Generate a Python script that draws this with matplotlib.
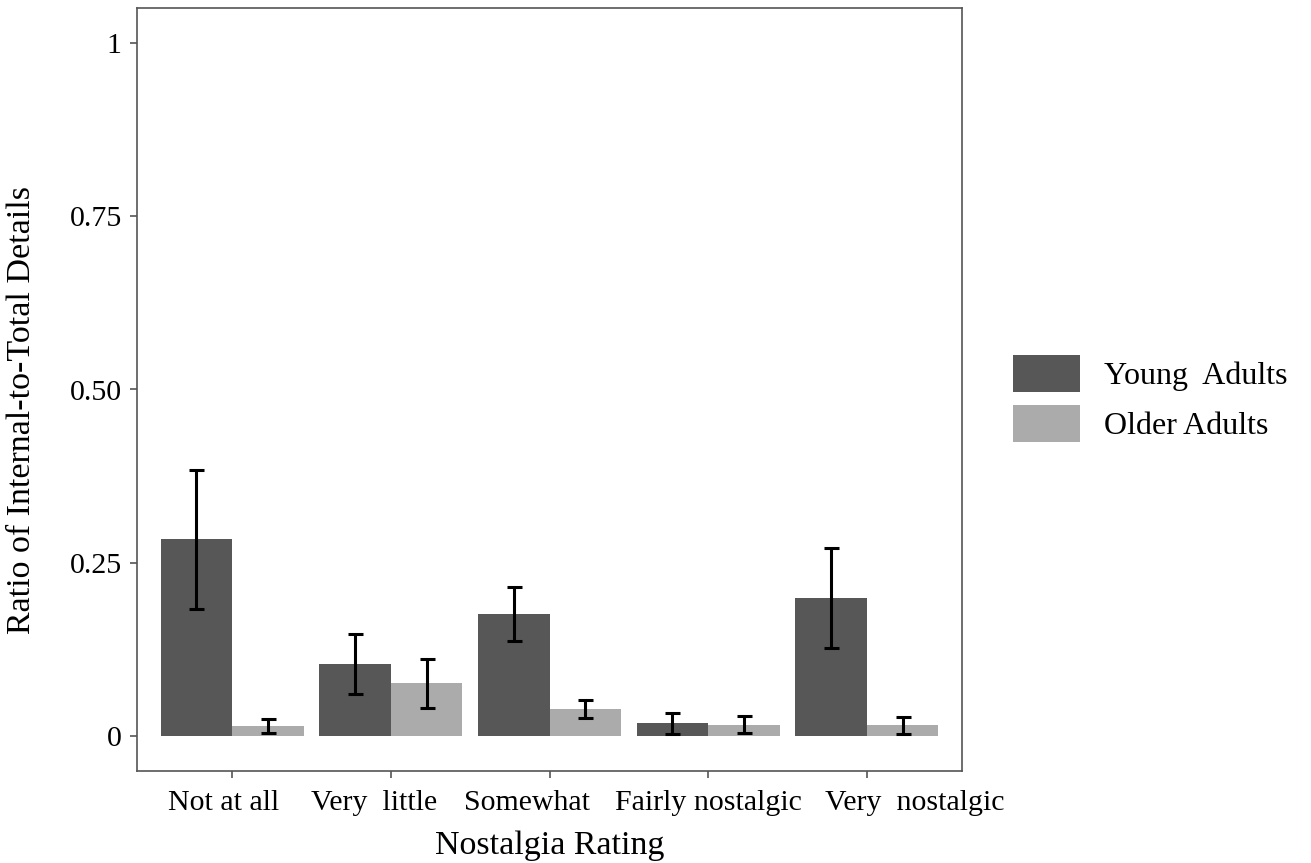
import numpy as np
import matplotlib
matplotlib.use("Agg")
import matplotlib.pyplot as plt
from matplotlib.patches import Patch
from matplotlib.transforms import ScaledTranslation

plt.rcParams['font.family'] = ['Liberation Serif', 'DejaVu Serif']

categories = ["Not at all", "Very  little", "Somewhat", "Fairly nostalgic", "Very  nostalgic"]
groups = ["Young  Adults", "Older Adults"]
young_mean = [0.284, 0.104, 0.176, 0.019, 0.200]
young_err = [0.100, 0.043, 0.039, 0.015, 0.072]
older_mean = [0.0144, 0.0765, 0.039, 0.017, 0.016]
older_err = [0.010, 0.035, 0.013, 0.0125, 0.0125]
y_ticks = [0, 0.25, 0.50, 0.75, 1]
y_ticklabels = ["0", "0.25", "0.50", "0.75", "1"]

colors = ["#575757", "#ababab"]
frame_col = "#555555"

fig = plt.figure(figsize=(13.11, 8.63), dpi=100)
ax = fig.add_axes([137/1311, 92/863, (962-137)/1311, (771-8)/863])

x = np.arange(1, len(categories) + 1)
w = 0.45
for i, (mean, err) in enumerate([(young_mean, young_err), (older_mean, older_err)]):
    pos = x + (i - 0.5) * w
    ax.bar(pos, mean, width=w, color=colors[i], edgecolor='none', label=groups[i], zorder=2)
    ax.errorbar(pos, mean, yerr=err, fmt='none', ecolor='black', elinewidth=2.2,
                capsize=5.4, capthick=2.2, zorder=3)

ax.set_xlim(0.4, 5.6)
ax.set_ylim(-0.05, 1.05)
ax.set_xticks(x)
ax.set_xticklabels(categories, fontsize=21.5)
ax.set_yticks(y_ticks)
ax.set_yticklabels(y_ticklabels, fontsize=21.5)
for s in ax.spines.values():
    s.set_color(frame_col)
    s.set_linewidth(1.2)
ax.tick_params(axis='both', length=5, width=1.2, color=frame_col, labelcolor='black')
ax.tick_params(axis='x', pad=9)
ax.tick_params(axis='y', pad=6)

# nudge the category labels sideways (in pixels at 100 dpi) so the long ones sit apart
label_shift_px = [-9, -17, -23, 0, 48]
for lab, dx in zip(ax.get_xticklabels(), label_shift_px):
    lab.set_transform(lab.get_transform() + ScaledTranslation(dx / 100, 0, fig.dpi_scale_trans))

ax.set_xlabel("Nostalgia Rating", fontsize=24.5, labelpad=10)
ax.set_ylabel("Ratio of Internal-to-Total Details", fontsize=24.5)
ax.yaxis.set_label_coords(-0.121, 0.473)

handles = [Patch(facecolor=c, edgecolor='none') for c in colors]
fig.legend(handles, groups, loc='upper left', bbox_to_anchor=(1013/1311, 1 - 355/863),
           frameon=False, fontsize=23, handlelength=2.1, handleheight=1.4,
           labelspacing=0.42, handletextpad=0.75, borderpad=0, borderaxespad=0)

fig.savefig("out.png", dpi=100)
